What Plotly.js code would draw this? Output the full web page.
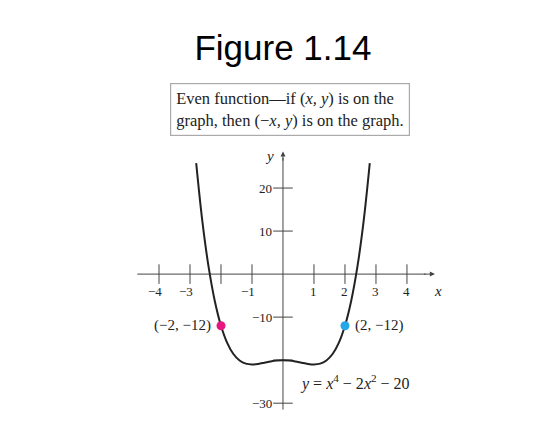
<!DOCTYPE html>
<html><head><script src="https://cdn.plot.ly/plotly-3.0.1.min.js"></script>
<style>body{margin:0}</style></head><body>
<div id="graph_panel" style="width:539px;height:429px"></div>
<script>
// sampled points of y = x^4 - 2x^2 - 20
var curve_x = [-2.8,-2.6,-2.4,-2.2,-2.0,-1.8,-1.6,-1.4,-1.2,-1.0,-0.8,-0.6,-0.4,-0.2,0,0.2,0.4,0.6,0.8,1.0,1.2,1.4,1.6,1.8,2.0,2.2,2.4,2.6,2.8];
var curve_y = [25.79,12.18,1.66,-6.25,-12,-15.98,-18.57,-20.08,-20.81,-21,-20.87,-20.59,-20.29,-20.08,-20,-20.08,-20.29,-20.59,-20.87,-21,-20.81,-20.08,-18.57,-15.98,-12,-6.25,1.66,12.18,25.79];
var point_x = [-2, 2];
var point_y = [-12, -12];
var point_labels = ['(−2, −12)', '(2, −12)'];
var xticks = [-4,-3,-2,-1,1,2,3,4];
var xtick_labels = ['−4','−3','','−1','1','2','3','4'];
var yticks = [20,10,-10,-20,-30];
var ytick_labels = ['20','10','−10','','−30'];

var serif = 'Liberation Serif, Times New Roman, serif';
var tickFont = {family: serif, size: 13, color: '#222'};

var data = [
  {x: [-4.7, 4.6], y: [0, 0], mode: 'lines', line: {color: '#444', width: 1}, hoverinfo: 'skip'},
  {x: [0, 0], y: [-31.5, 27], mode: 'lines', line: {color: '#444', width: 1}, hoverinfo: 'skip'},
  {x: xticks, y: xticks.map(function(){return 0}), mode: 'markers',
   marker: {symbol: 'line-ns', size: 14, line: {color: '#444', width: 1}}},
  {x: yticks.map(function(){return 0}), y: yticks, mode: 'markers',
   marker: {symbol: 'line-ew', size: 14, line: {color: '#444', width: 1}}},
  {x: curve_x, y: curve_y, mode: 'lines', line: {color: '#222', width: 2, shape: 'spline'}},
  {x: point_x, y: point_y, mode: 'markers', marker: {size: 9, color: ['#e8177f', '#22a8e8']}}
];

var ann = [];
xticks.forEach(function(v, i){
  if (xtick_labels[i]) ann.push({x: v, y: 0, yanchor: 'top', yshift: -8, text: xtick_labels[i], showarrow: false, font: tickFont, xshift: v < 0 ? -4 : 0});
});
yticks.forEach(function(v, i){
  if (ytick_labels[i]) ann.push({x: 0, y: v, text: ytick_labels[i], showarrow: false, font: tickFont, xanchor: 'right', xshift: -9});
});
ann.push({x: 4.9, y: 0, ax: 4.5, ay: 0, axref: 'x', ayref: 'y', showarrow: true, arrowhead: 2, arrowsize: 1, arrowwidth: 1, arrowcolor: '#444', text: ''});
ann.push({x: 0, y: 28.5, ax: 0, ay: 26, axref: 'x', ayref: 'y', showarrow: true, arrowhead: 2, arrowsize: 1, arrowwidth: 1, arrowcolor: '#444', text: ''});
ann.push({x: 5.0, y: 0, yanchor: 'top', yshift: -7, text: '<i>x</i>', showarrow: false, font: {family: serif, size: 15, color: '#222'}});
ann.push({x: -0.45, y: 27.5, text: '<i>y</i>', showarrow: false, font: {family: serif, size: 15, color: '#222'}});
ann.push({x: point_x[0], y: point_y[0], text: point_labels[0], showarrow: false, xanchor: 'right', xshift: -8, font: {family: serif, size: 15, color: '#222'}});
ann.push({x: point_x[1], y: point_y[1], text: point_labels[1], showarrow: false, xanchor: 'left', xshift: 8, font: {family: serif, size: 15, color: '#222'}});
ann.push({x: 0.5, y: -25.3, text: '<i>y</i> = <i>x</i><sup>4</sup> − 2<i>x</i><sup>2</sup> − 20', showarrow: false, xanchor: 'left', font: {family: serif, size: 16, color: '#222'}});
ann.push({xref: 'paper', yref: 'paper', x: 0.538, y: 0.744, xanchor: 'center', yanchor: 'middle', text: 'Even function—if (<i>x, y</i>) is on the<br>graph, then (−<i>x, y</i>) is on the graph.',
  showarrow: false, align: 'left', bordercolor: '#aaa', borderwidth: 1.2, borderpad: 5, font: {family: serif, size: 16.5, color: '#222'}});

var layout = {
  width: 539, height: 429, margin: {l: 0, r: 0, t: 0, b: 0},
  paper_bgcolor: 'white', plot_bgcolor: 'white', showlegend: false,
  title: {text: 'Figure 1.14', x: 0.525, y: 0.888, xanchor: 'center', yanchor: 'middle', font: {family: 'Liberation Sans, Arial, sans-serif', size: 35, color: '#000'}},
  xaxis: {range: [-9.13, 8.26], visible: false, fixedrange: true},
  yaxis: {range: [-36.0, 63.7], visible: false, fixedrange: true},
  annotations: ann
};
Plotly.newPlot('graph_panel', data, layout, {staticPlot: true});
</script></body></html>
